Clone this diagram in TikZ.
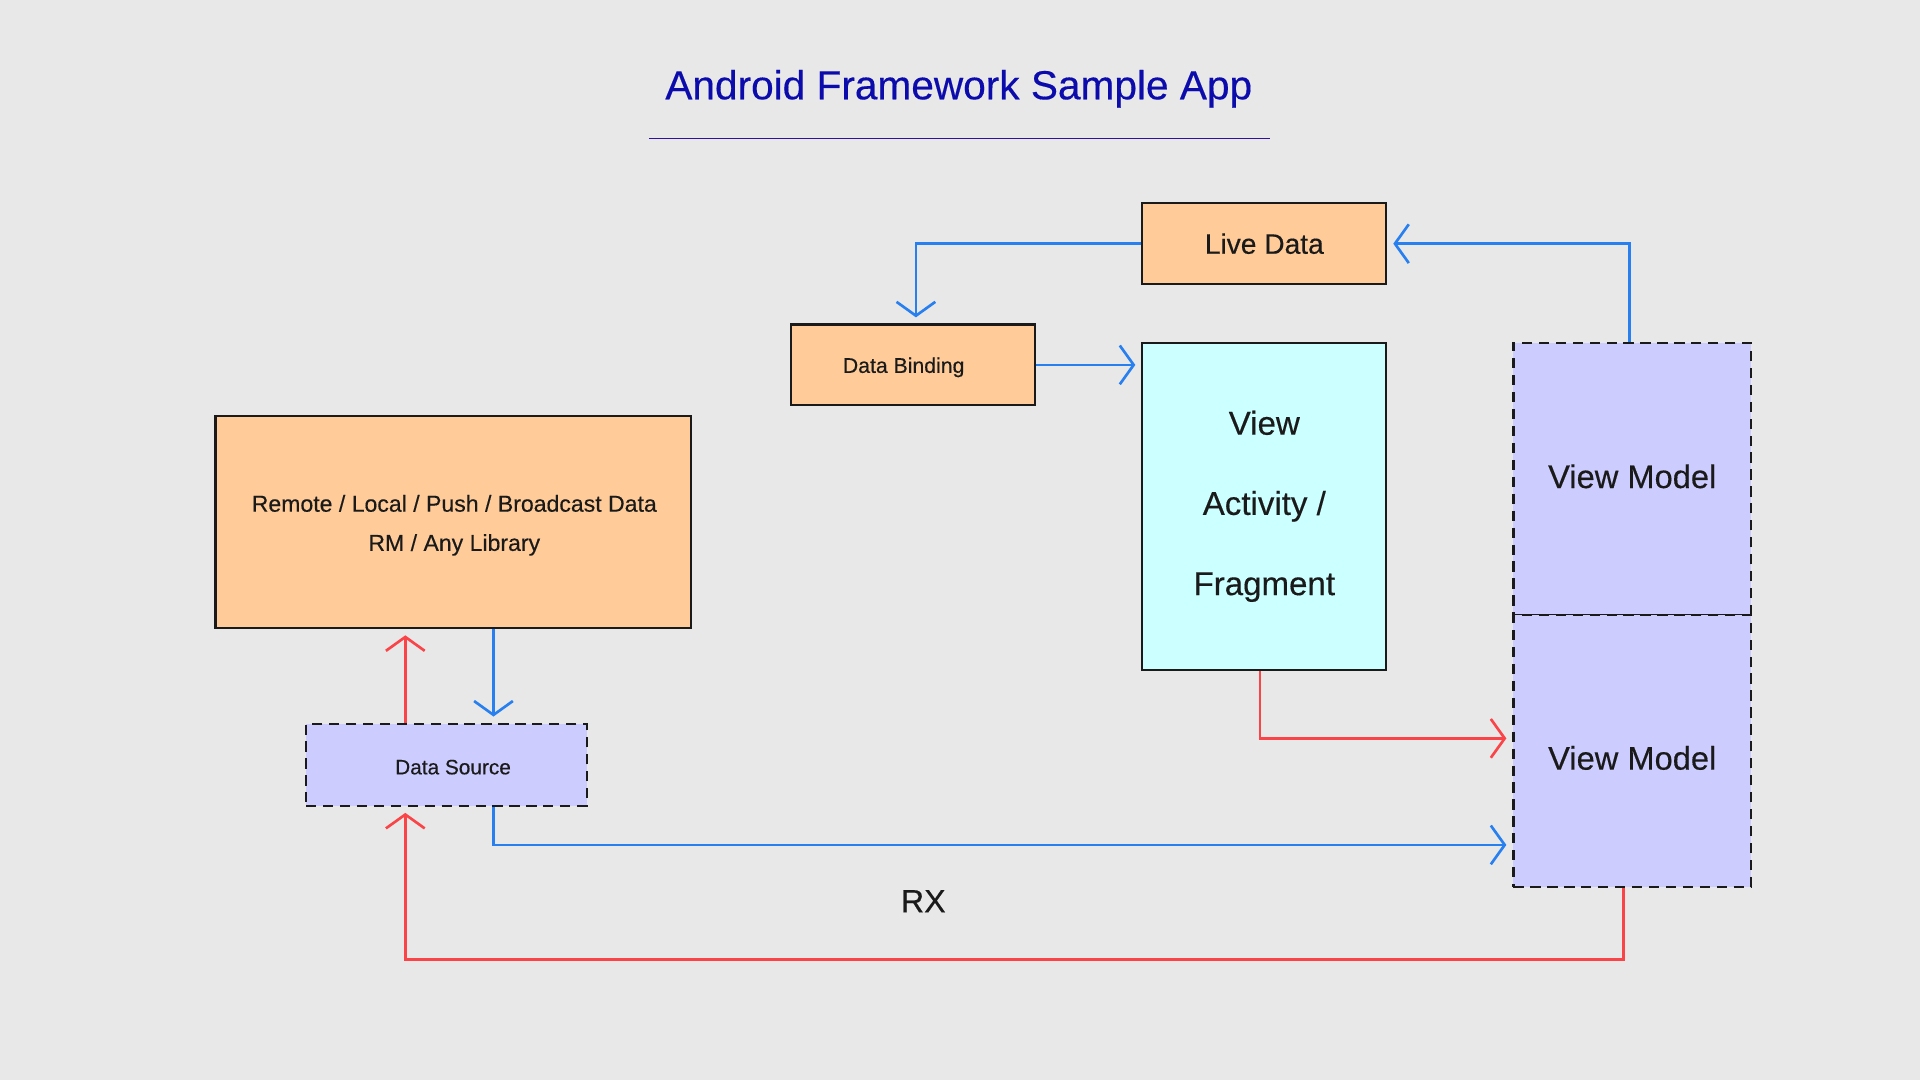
\documentclass[tikz,border=0pt]{standalone}
\usepackage{fontspec}
\setmainfont{Liberation Sans}[FakeBold=0.35]
\usetikzlibrary{arrows.meta}
\definecolor{bgc}{RGB}{232,232,232}
\definecolor{orangec}{RGB}{255,204,153}
\definecolor{cyanc}{RGB}{204,255,255}
\definecolor{lavc}{RGB}{204,204,255}
\definecolor{bluec}{RGB}{40,128,240}
\definecolor{redc}{RGB}{250,68,72}
\definecolor{titlec}{RGB}{12,12,172}
\definecolor{rulec}{RGB}{48,16,160}
\definecolor{textc}{RGB}{26,26,26}
\tikzset{
  solidbox/.style={draw=textc, line width=1pt, inner sep=0pt, text=textc, align=center},
  dashbox/.style={draw=textc, line width=1pt, inner sep=0pt, text=textc, align=center,
    dash pattern=on 5pt off 3.3pt, fill=lavc},
  conn/.style={line width=1.3pt, -{Straight Barb[length=6.8pt,width=19pt]}, shorten >=3pt},
  blueconn/.style={conn, draw=bluec},
  redconn/.style={conn, draw=redc},
  vmlabel/.style={text=textc, font=\fontsize{16}{19}\selectfont},
}
\begin{document}
\begin{tikzpicture}[x=0.6pt,y=-0.6pt]
\fill[bgc] (0,0) rectangle (1568,882);
\useasboundingbox (0,0) rectangle (1568,882);

% title
\node[text=titlec, font=\fontsize{19.9}{24}\selectfont] (title) at (783,72.5) {Android Framework Sample App};
\coordinate (ruleL) at (530,113);
\coordinate (ruleR) at (1037,113);
\draw[rulec, line width=0.6pt] (ruleL) -- (ruleR);

% boxes
\node[solidbox, fill=orangec, minimum width=119.4pt, minimum height=39.6pt,
      font=\fontsize{13.8}{16}\selectfont] (live) at (1032.5,199) {Live Data};
\node[solidbox, fill=orangec, minimum width=119.4pt, minimum height=39.6pt] (bind) at (745.5,298) {};
\node[text=textc, font=\fontsize{10.4}{12}\selectfont] (bindtext) at (738,300) {Data Binding};
\node[solidbox, fill=cyanc, minimum width=119.4pt, minimum height=160.2pt,
      font=\fontsize{16.2}{39.3}\selectfont] (view) at (1032.5,413.5) {View\\Activity /\\Fragment};
\node[dashbox, minimum width=116.4pt, minimum height=133.2pt] (vm1) at (1333,391) {};
\node[vmlabel] (vm1text) at (1333,389) {View Model};
\node[dashbox, minimum width=116.4pt, minimum height=133.2pt] (vm2) at (1333,613) {};
\node[vmlabel] (vm2text) at (1333,619) {View Model};
\node[solidbox, fill=orangec, minimum width=232.8pt, minimum height=103.8pt] (remote) at (370,426.5) {};
\node[text=textc, align=center, font=\fontsize{11.3}{19.2}\selectfont] (remotetext) at (371,429) {Remote / Local / Push / Broadcast Data\\RM / Any Library};
\node[dashbox, minimum width=137.4pt, minimum height=40.2pt] (ds) at (364.5,624.5) {};
\node[text=textc, font=\fontsize{10.2}{12}\selectfont] (dstext) at (370,626.5) {Data Source};
\node[text=textc, font=\fontsize{15.8}{19}\selectfont] (rx) at (754,736) {RX};

% helper coordinates
\coordinate (x748) at (748,0);
\coordinate (x403) at (403,0);
\coordinate (x331) at (331,0);
\coordinate (x1029) at (1029,0);
\coordinate (x1331) at (1331,0);
\coordinate (x1326) at (1326,0);
\coordinate (y603) at (0,603);
\coordinate (y690) at (0,690);

% connectors
\draw[blueconn] (live.west) -| (bind.north -| x748);
\draw[blueconn] (bind.east) -- (bind.east -| view.west);
\draw[blueconn] (vm1.north -| x1331) |- (live.east);
\draw[blueconn] (remote.south -| x403) -- (ds.north -| x403);
\draw[redconn] (ds.north -| x331) -- (remote.south -| x331);
\draw[redconn] (view.south -| x1029) |- (vm2.west |- y603);
\draw[blueconn] (ds.south -| x403) |- (vm2.west |- y690);
\draw[redconn] (vm2.south -| x1326) -- ++(0,59) -| (ds.south -| x331);
\end{tikzpicture}
\end{document}
